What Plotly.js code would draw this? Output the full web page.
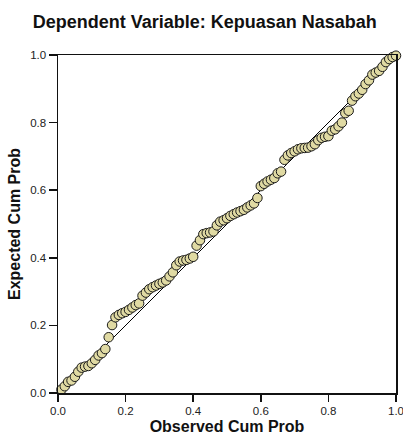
<!DOCTYPE html>
<html>
<head>
<meta charset="utf-8">
<script src="https://cdn.plot.ly/plotly-3.0.1.min.js"></script>
<style>html,body{margin:0;padding:0;background:#fff;}#chart{width:403px;height:437px;}</style>
</head>
<body>
<div id="chart"></div>
<script>
// Observed cumulative probability (x) and expected cumulative probability (y)
var observedCumProb = [0.01,0.02,0.03,0.04,0.05,0.06,0.07,0.08,0.09,0.10,
  0.11,0.12,0.13,0.14,0.15,0.16,0.17,0.18,0.19,0.20,
  0.21,0.22,0.23,0.24,0.25,0.26,0.27,0.28,0.29,0.30,
  0.31,0.32,0.33,0.34,0.35,0.36,0.37,0.38,0.39,0.40,
  0.41,0.42,0.43,0.44,0.45,0.46,0.47,0.48,0.49,0.50,
  0.51,0.52,0.53,0.54,0.55,0.56,0.57,0.58,0.59,0.60,
  0.61,0.62,0.63,0.64,0.65,0.66,0.67,0.68,0.69,0.70,
  0.71,0.72,0.73,0.74,0.75,0.76,0.77,0.78,0.79,0.80,
  0.81,0.82,0.83,0.84,0.85,0.86,0.87,0.88,0.89,0.90,
  0.91,0.92,0.93,0.94,0.95,0.96,0.97,0.98,0.99,1.00];
var expectedCumProb = [0.010,0.020,0.033,0.037,0.048,0.063,0.075,0.078,0.080,0.088,
  0.098,0.111,0.118,0.130,0.165,0.201,0.224,0.231,0.236,0.240,
  0.246,0.253,0.260,0.265,0.288,0.297,0.307,0.313,0.318,0.323,
  0.327,0.333,0.345,0.357,0.378,0.389,0.392,0.394,0.398,0.403,
  0.436,0.452,0.470,0.473,0.475,0.478,0.496,0.507,0.511,0.517,
  0.524,0.529,0.534,0.538,0.542,0.549,0.555,0.561,0.577,0.612,
  0.619,0.626,0.631,0.636,0.650,0.655,0.690,0.703,0.710,0.715,
  0.721,0.724,0.725,0.726,0.730,0.736,0.748,0.755,0.758,0.760,
  0.776,0.780,0.789,0.800,0.828,0.835,0.865,0.878,0.886,0.897,
  0.914,0.925,0.942,0.948,0.953,0.965,0.979,0.988,0.994,0.998];
// Reference diagonal
var diagX = [0, 1];
var diagY = [0, 1];
var tickVals = [0, 0.2, 0.4, 0.6, 0.8, 1.0];
var tickText = ['0.0', '0.2', '0.4', '0.6', '0.8', '1.0'];

var FONT = 'Arial, "Liberation Sans", sans-serif';

var traces = [
  {x: diagX, y: diagY, mode: 'lines', type: 'scatter', line: {color: '#000', width: 1}, hoverinfo: 'skip', showlegend: false},
  {x: observedCumProb, y: expectedCumProb, mode: 'markers', type: 'scatter', cliponaxis: false,
   marker: {size: 9.5, color: '#e0daa3', line: {color: '#1a1a1a', width: 1}}, showlegend: false}
];

var axisCommon = {
  range: [0, 1], tickvals: tickVals, ticktext: tickText,
  showgrid: false, zeroline: false, showline: true, mirror: true,
  linecolor: '#111', linewidth: 1.5, ticks: 'outside', tickcolor: '#111', tickwidth: 1.5,
  tickfont: {family: FONT, size: 11.5, color: '#222'}, fixedrange: true,
  ticklabeloverflow: 'allow'
};

var layout = {
  width: 403, height: 437,
  margin: {l: 58, r: 7, t: 55, b: 44, pad: 0},
  paper_bgcolor: '#fff', plot_bgcolor: '#fff',
  font: {family: FONT},
  title: {text: '<b>Dependent Variable: Kepuasan Nasabah</b>', font: {family: FONT, size: 18, color: '#111'},
          xref: 'container', yref: 'container', x: 0.508, xanchor: 'center', y: 0.95, yanchor: 'middle'},
  xaxis: Object.assign({}, axisCommon, {ticklen: 7,
    title: {text: '<b>Observed Cum Prob</b>', font: {family: FONT, size: 16, color: '#111'}, standoff: 4}}),
  yaxis: Object.assign({}, axisCommon, {ticklen: 8,
    title: {text: '<b>Expected Cum Prob</b>', font: {family: FONT, size: 16, color: '#111'}, standoff: 5}}),
  showlegend: false
};

Plotly.newPlot('chart', traces, layout, {displayModeBar: false, staticPlot: true});
</script>
</body>
</html>
